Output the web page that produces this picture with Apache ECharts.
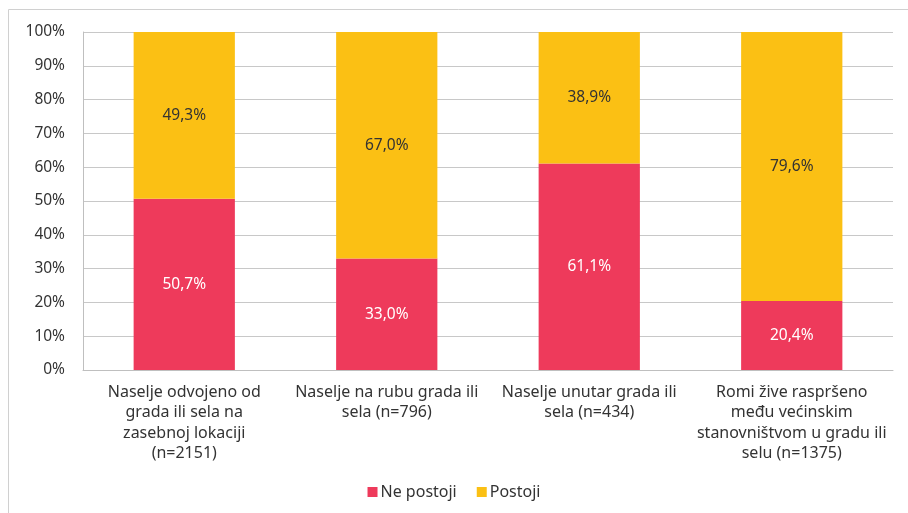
<!DOCTYPE html>
<html>
<head>
<meta charset="utf-8">
<script src="https://cdn.jsdelivr.net/npm/echarts@6/dist/echarts.min.js"></script>
<style>
  html, body { margin: 0; padding: 0; background: #ffffff; }
  #chart { width: 908px; height: 513px; }
</style>
</head>
<body>
<div id="chart"></div>
<script>
// Settlement types (line breaks as they wrap under the axis)
const categories = [
  'Naselje odvojeno od\ngrada ili sela na\nzasebnoj lokaciji\n(n=2151)',
  'Naselje na rubu grada ili\nsela (n=796)',
  'Naselje unutar grada ili\nsela (n=434)',
  'Romi žive raspršeno\nmeđu većinskim\nstanovništvom u gradu ili\nselu (n=1375)'
];
const seriesNames = ['Ne postoji', 'Postoji'];
const nePostoji = [50.7, 33.0, 61.1, 20.4];
const postoji = [49.3, 67.0, 38.9, 79.6];
const yTicks = [0, 10, 20, 30, 40, 50, 60, 70, 80, 90, 100];

const FONT = '"Noto Sans", "Open Sans", sans-serif';
const RED = '#EE3A5B';
const YELLOW = '#FBC014';
const TEXT = '#333333';

const fmt = v => v.toFixed(1).replace('.', ',') + '%';

const chart = echarts.init(document.getElementById('chart'), null, { renderer: 'canvas' });
chart.setOption({
  animation: false,
  textStyle: { fontFamily: FONT },
  graphic: [{
    type: 'rect',
    shape: { x: 8.5, y: 9.5, width: 1000, height: 600 },
    style: { fill: 'none', stroke: '#d0d0d0', lineWidth: 1 },
    silent: true
  }],
  grid: { left: 83, right: 15, top: 32, bottom: 143 },
  legend: {
    bottom: 8,
    left: 'center',
    itemWidth: 10,
    itemHeight: 10,
    itemGap: 20,
    icon: 'rect',
    textStyle: { fontFamily: FONT, fontSize: 16, color: TEXT, padding: [0, 0, 0, -2] },
    data: seriesNames
  },
  xAxis: {
    type: 'category',
    data: categories,
    axisLine: { show: true, lineStyle: { color: '#bfbfbf', width: 1 } },
    axisTick: { show: false },
    axisLabel: {
      interval: 0,
      fontFamily: FONT,
      fontSize: 16,
      lineHeight: 20.5,
      color: TEXT,
      margin: 12,
      align: 'center'
    }
  },
  yAxis: {
    type: 'value',
    min: 0,
    max: 100,
    interval: 10,
    axisLine: { show: true, lineStyle: { color: '#bfbfbf', width: 1 } },
    axisTick: { show: false },
    splitLine: { show: true, lineStyle: { color: '#c8c8c8', width: 1 } },
    axisLabel: {
      fontFamily: FONT,
      fontSize: 15.5,
      color: TEXT,
      margin: 18,
      customValues: yTicks,
      formatter: v => v + '%'
    }
  },
  series: [
    {
      name: seriesNames[0],
      type: 'bar',
      stack: 'total',
      barWidth: '50%',
      data: nePostoji,
      itemStyle: { color: RED },
      label: {
        show: true,
        position: 'inside',
        color: '#ffffff',
        fontFamily: FONT,
        fontSize: 15.5,
        formatter: p => fmt(p.value)
      }
    },
    {
      name: seriesNames[1],
      type: 'bar',
      stack: 'total',
      barWidth: '50%',
      data: postoji,
      itemStyle: { color: YELLOW },
      label: {
        show: true,
        position: 'inside',
        color: TEXT,
        fontFamily: FONT,
        fontSize: 15.5,
        formatter: p => fmt(p.value)
      }
    }
  ]
});
</script>
</body>
</html>
